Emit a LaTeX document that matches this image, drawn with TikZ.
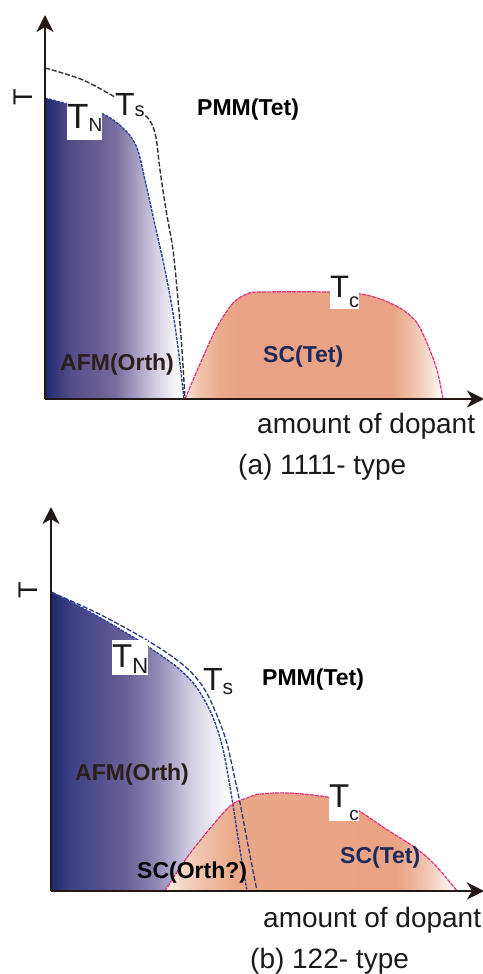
\documentclass[tikz,border=0pt]{standalone}
\usepackage{fontspec}
\setmainfont{Liberation Sans}
\usetikzlibrary{arrows.meta}
\definecolor{axc}{HTML}{231815}
\definecolor{txt}{HTML}{1A1A1A}
\definecolor{navy}{HTML}{1E2A5E}
\definecolor{afmtxt}{HTML}{2A1E1A}
\definecolor{tnc}{HTML}{2B4496}
\definecolor{tsc}{HTML}{333333}
\definecolor{tsb}{HTML}{2A3A80}
\definecolor{domec}{HTML}{E2307C}
% AFM shading (a)
\definecolor{aA0}{HTML}{1B2A6E}\definecolor{aA1}{HTML}{33387A}\definecolor{aA2}{HTML}{524C88}
\definecolor{aA3}{HTML}{675C92}\definecolor{aA4}{HTML}{776D9F}\definecolor{aA5}{HTML}{A39BC0}
\definecolor{aA6}{HTML}{D2CDE2}\definecolor{aA7}{HTML}{F6F5FA}
\pgfdeclarehorizontalshading{afmA}{100bp}{color(0bp)=(aA0); color(25bp)=(aA0); color(28.6bp)=(aA1); color(33.9bp)=(aA2); color(42.9bp)=(aA3); color(50bp)=(aA4); color(57.1bp)=(aA5); color(64.3bp)=(aA6); color(71.4bp)=(aA7); color(75bp)=(white); color(100bp)=(white)}
% AFM shading (b)
\definecolor{aB1}{HTML}{2C3476}\definecolor{aB2}{HTML}{3F4286}\definecolor{aB3}{HTML}{5A5490}
\definecolor{aB4}{HTML}{6A6298}\definecolor{aB5}{HTML}{8A82B0}\definecolor{aB6}{HTML}{B0AACC}
\definecolor{aB7}{HTML}{D0CCE0}\definecolor{aB8}{HTML}{EEECF4}
\pgfdeclarehorizontalshading{afmB}{100bp}{color(0bp)=(aA0); color(25bp)=(aA0); color(27.3bp)=(aB1); color(30.5bp)=(aB2); color(39.1bp)=(aB3); color(44.1bp)=(aB4); color(50.6bp)=(aB5); color(55.7bp)=(aB6); color(59.9bp)=(aB7); color(65.7bp)=(aB8); color(70bp)=(white); color(100bp)=(white)}
% dome shadings
\definecolor{d0}{HTML}{F8E2D6}\definecolor{d1}{HTML}{F0C2AC}\definecolor{d2}{HTML}{EBAA8C}
\definecolor{d3}{HTML}{E9A283}\definecolor{d4}{HTML}{EFBCA4}\definecolor{d5}{HTML}{F7E0D4}
\definecolor{e0}{HTML}{FBEEE6}\definecolor{e1}{HTML}{F5D3C2}\definecolor{e2}{HTML}{F0C0A8}\definecolor{e3}{HTML}{EAA888}
\pgfdeclarehorizontalshading{domeA}{100bp}{color(0bp)=(d0); color(25bp)=(d0); color(27.9bp)=(d1); color(31.8bp)=(d2); color(35.7bp)=(d3); color(64.7bp)=(d3); color(68.6bp)=(d4); color(72.5bp)=(d5); color(75bp)=(white); color(100bp)=(white)}
\pgfdeclarehorizontalshading{domeB}{100bp}{color(0bp)=(e0); color(25bp)=(e0); color(28.4bp)=(e1); color(31.8bp)=(e2); color(37bp)=(e3); color(64.4bp)=(d3); color(68.7bp)=(d4); color(72.1bp)=(d5); color(75bp)=(white); color(100bp)=(white)}
\newcommand{\tsub}[4]{{\fontsize{#1}{#1}\selectfont T}\raisebox{-#4}{\fontsize{#2}{#2}\selectfont #3}}
\tikzset{
  lbl/.style={inner sep=0pt, text=txt},
  boldlbl/.style={inner sep=0pt, font=\fontsize{23}{23}\selectfont\bfseries},
  axlbl/.style={lbl, font=\fontsize{28}{28}\selectfont},
  axisline/.style={line width=1.8pt, draw=axc, -{Stealth[length=17pt,width=17pt,inset=5pt]}},
  tnline/.style={draw=tnc, line width=1.4pt, dash pattern=on 3pt off 1.2pt},
  tsline/.style={draw=tsc, line width=1.4pt, dash pattern=on 5pt off 2pt},
  tsbline/.style={draw=tsb, line width=1.3pt, dash pattern=on 5pt off 2pt},
  domeline/.style={draw=domec, line width=1.2pt, dash pattern=on 4pt off 1pt},
  whitebox/.style={fill=white, inner sep=0pt, anchor=north west, text=txt},
}
\begin{document}
\begin{tikzpicture}[x=1pt,y=-1pt]
\useasboundingbox (0,0) rectangle (482,974);
% ================= panel (a) =================
\begin{scope}
\clip (45,399) -- plot[smooth, tension=0.55] coordinates {(45,98) (67,104) (103,114) (125,130) (137,148) (145,180) (155,225) (165,270) (173,313) (179,355) (184,399)} -- cycle;
\shade[shading=afmA] (45,60) rectangle (185,400);
\end{scope}
\begin{scope}
\clip plot[smooth, tension=0.55] coordinates {(185,399) (203,357) (217,327) (233,303) (247,294) (260,292) (330,292) (361,294) (383,300) (403,310) (417,323) (427,343) (437,370) (443,399)} -- cycle;
\shade[shading=domeA] (185,280) rectangle (443,400);
\end{scope}
\draw[tnline] plot[smooth, tension=0.55] coordinates {(45,98) (67,104) (103,114) (125,130) (137,148) (145,180) (155,225) (165,270) (173,313) (179,355) (184,399)};
\draw[tsline] plot[smooth, tension=0.55] coordinates {(45,68) (83,80) (120,100) (145,115) (155,133) (160,170) (166,210) (173,250) (178,300) (182,350) (185,399)};
\draw[domeline] plot[smooth, tension=0.55] coordinates {(185,399) (203,357) (217,327) (233,303) (247,294) (260,292) (330,292) (361,294) (383,300) (403,310) (417,323) (427,343) (437,370) (443,399)};
\node[whitebox, text height=25pt, text depth=12pt] (tnA) at (67,103) {\tsub{35}{19}{N}{3pt}};
\node[whitebox, anchor=base west, text height=23pt, text depth=1pt] (tsA) at (115,115) {\tsub{32}{20}{s}{1pt}};
\node[whitebox, text height=24pt, text depth=12pt] (tcA) at (330,273) {\tsub{31}{20}{c}{10pt}\hspace{2pt}};
\node[boldlbl, anchor=base west, text=black] (pmmA) at (197,115) {PMM(Tet)};
\node[boldlbl, anchor=base west, text=afmtxt] (afmA) at (60,370) {AFM(Orth)};
\node[boldlbl, anchor=base west, text=navy] (scA) at (263,362) {SC(Tet)};
\node[lbl, rotate=90, font=\fontsize{27}{27}\selectfont] (yA) at (23,97) {T};
\coordinate (oA) at (45,399);
\coordinate (yendA) at (45,15);
\coordinate (xendA) at (484,399);
\draw[axisline] (oA) -- (yendA);
\draw[axisline] (oA) -- (xendA);
\node[axlbl, anchor=base west] (xlabA) at (257,433) {amount of dopant};
\node[axlbl, anchor=base west] (capA) at (238,474) {(a) 1111- type};
% ================= panel (b) =================
\begin{scope}
\clip (51,891) -- plot[smooth, tension=0.55] coordinates {(51,592) (90,612) (133,637) (153,650) (178,668) (197,688) (212,715) (222,745) (228,775) (233,805) (240,850) (247,891)} -- cycle;
\shade[shading=afmB] (51,560) rectangle (250,892);
\end{scope}
\begin{scope}
\clip plot[smooth, tension=0.55] coordinates {(165,891) (183,863) (203,837) (230,806) (247,798) (260,794) (290,793) (327,797) (345,803) (361,812) (383,827) (417,849) (437,867) (457,891)} -- cycle;
\shade[shading=domeB] (165,780) rectangle (457,892);
\end{scope}
\draw[tnline] plot[smooth, tension=0.55] coordinates {(51,592) (90,612) (133,637) (153,650) (178,668) (197,688) (212,715) (222,745) (228,775) (233,805) (240,850) (247,891)};
\draw[tsbline] plot[smooth, tension=0.55] coordinates {(51,592) (93,611) (120,625) (145,639) (170,655) (190,671) (205,690) (216,713) (226,740) (233,770) (240,803) (248,845) (257,891)};
\draw[domeline] plot[smooth, tension=0.55] coordinates {(165,891) (183,863) (203,837) (230,806) (247,798) (260,794) (290,793) (327,797) (345,803) (361,812) (383,827) (417,849) (437,867) (457,891)};
\node[whitebox, text height=27pt, text depth=8pt] (tnB) at (112,640) {\tsub{33}{22}{N}{6pt}\hspace{3pt}};
\node[lbl, anchor=base west] (tsB) at (203,690) {\tsub{32}{21}{s}{4pt}};
\node[whitebox, text height=25pt, text depth=14pt] (tcB) at (329,782) {\tsub{33}{19}{c}{13pt}\hspace{2pt}};
\node[boldlbl, anchor=base west, text=black] (pmmB) at (262,685) {PMM(Tet)};
\node[boldlbl, anchor=base west, text=afmtxt] (afmB) at (75,780) {AFM(Orth)};
\node[boldlbl, anchor=base west, text=black] (scoB) at (137,878) {SC(Orth?)};
\node[boldlbl, anchor=base west, text=navy] (scB) at (340,863) {SC(Tet)};
\node[lbl, rotate=90, font=\fontsize{27}{27}\selectfont] (yB) at (28,590) {T};
\coordinate (oB) at (51,891);
\coordinate (yendB) at (51,507);
\coordinate (xendB) at (484,891);
\draw[axisline] (oB) -- (yendB);
\draw[axisline] (oB) -- (xendB);
\node[axlbl, anchor=base west] (xlabB) at (263,927) {amount of dopant};
\node[axlbl, anchor=base west] (capB) at (250,968) {(b) 122- type};
\end{tikzpicture}
\end{document}
